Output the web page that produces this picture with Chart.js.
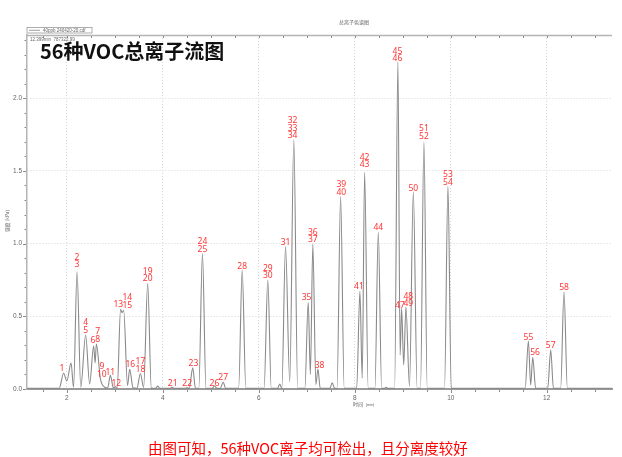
<!DOCTYPE html>
<html>
<head>
<meta charset="utf-8">
<script src="https://cdn.jsdelivr.net/npm/chart.js@4.4.1/dist/chart.umd.min.js"></script>
<style>
  html, body { margin: 0; padding: 0; background: #fff; }
  #wrap { position: relative; width: 622px; height: 457px; overflow: hidden; }
  #c { position: absolute; left: 0; top: 0; }
  .title {
    position: absolute; left: 40px; top: 41px;
    font: bold 20px/20px "Noto Sans CJK SC", sans-serif; color: #111; white-space: nowrap;
  }
  .caption {
    position: absolute; left: 148px; top: 440px;
    font: 14.5px/15px "Noto Sans CJK SC", sans-serif; color: #ff0000; white-space: nowrap;
  }
</style>
</head>
<body>
<div id="wrap">
  <canvas id="c" width="622" height="457"></canvas>
  <div class="title">56种VOC总离子流图</div>
  <div class="caption">由图可知，56种VOC离子均可检出，且分离度较好</div>
</div>
<script>
// ---- data (time in min, signal) ----
const traceTime = [
  1.17, 1.84, 1.933, 2.00, 2.088, 2.14, 2.213, 2.29, 2.392, 2.475, 2.559, 2.59, 2.615, 2.70, 2.79,
  2.85, 2.907, 2.97, 3.01, 3.05, 3.12, 3.15, 3.185, 3.265, 3.31, 3.38, 3.46, 3.533, 3.60, 3.685, 3.76,
  3.85, 3.894, 3.94, 4.14, 4.194, 4.25, 4.46, 4.507, 4.55, 4.624, 4.68, 4.75, 4.826, 4.90,
  5.03, 5.076, 5.13, 5.20, 5.257, 5.31, 5.58, 5.654, 5.73, 6.11, 6.188, 6.26, 6.39, 6.438, 6.48,
  6.557, 6.645, 6.73, 6.81, 6.96, 7.03, 7.075, 7.126, 7.19, 7.232, 7.28, 7.48, 7.53, 7.58,
  7.63, 7.705, 7.78, 8.04, 8.107, 8.155, 8.205, 8.28, 8.42, 8.49, 8.56, 8.62, 8.65, 8.70,
  8.83, 8.899, 8.945, 8.976, 9.02, 9.066, 9.14, 9.22, 9.30, 9.37, 9.441, 9.51, 9.87, 9.942, 10.01,
  11.55, 11.618, 11.665, 11.708, 11.77, 12.02, 12.083, 12.14, 12.29, 12.36, 12.43, 13.36
];
const traceSignal = [
  0.004, 0.004, 0.108, 0.055, 0.179, 0.012, 0.807, 0.012, 0.371, 0.035, 0.296, 0.18, 0.31, 0.07, 0.012,
  0.006, 0.094, 0.008, 0.016, 0.006, 0.548, 0.525, 0.54, 0.025, 0.135, 0.008, 0.005, 0.107, 0.01, 0.727, 0.006,
  0.004, 0.02, 0.004, 0.004, 0.012, 0.004, 0.004, 0.008, 0.004, 0.145, 0.005, 0.005, 0.932, 0.005,
  0.004, 0.022, 0.004, 0.004, 0.048, 0.004, 0.004, 0.818, 0.004, 0.004, 0.75, 0.004, 0.004, 0.034, 0.004,
  0.979, 0.05, 1.715, 0.005, 0.004, 0.597, 0.10, 0.995, 0.03, 0.138, 0.005, 0.004, 0.043, 0.004,
  0.004, 1.323, 0.004, 0.004, 0.672, 0.075, 1.49, 0.004, 0.004, 1.08, 0.004, 0.004, 0.012, 0.004,
  0.004, 2.25, 0.234, 0.555, 0.165, 0.564, 0.02, 1.357, 0.004, 0.004, 1.70, 0.004, 0.004, 1.395, 0.004,
  0.004, 0.33, 0.027, 0.218, 0.004, 0.004, 0.268, 0.004, 0.004, 0.669, 0.004, 0.004
];

// peak numbers and where they sit (time, signal at the label foot)
const labelText = [
  '1', '2\n3', '4\n5', '6', '7\n8', '9\n10', '11', '12', '13', '14\n15', '16', '17\n18', '19\n20',
  '21', '22', '23', '24\n25', '26', '27', '28', '29\n30', '31', '32\n33\n34', '35', '36\n37', '38',
  '39\n40', '41', '42\n43', '44', '45\n46', '47', '48\n49', '50', '51\n52', '53\n54',
  '55', '56', '57', '58'
];
const labelTime = [
  1.90, 2.213, 2.392, 2.546, 2.642, 2.73, 2.907, 3.032, 3.074, 3.26, 3.324, 3.533, 3.685,
  4.206, 4.507, 4.637, 4.826, 5.076, 5.257, 5.654, 6.188, 6.557, 6.703, 6.995, 7.126, 7.266,
  7.718, 8.086, 8.205, 8.49, 8.89, 8.94, 9.116, 9.22, 9.441, 9.942,
  11.618, 11.756, 12.083, 12.36
];
const labelValue = [
  0.111, 0.822, 0.37, 0.301, 0.311, 0.07, 0.081, 0.008, 0.548, 0.542, 0.139, 0.105, 0.726,
  0.008, 0.003, 0.141, 0.93, 0.008, 0.05, 0.81, 0.746, 0.975, 1.709, 0.597, 0.994, 0.132,
  1.322, 0.673, 1.51, 1.078, 2.239, 0.542, 0.554, 1.349, 1.704, 1.388,
  0.325, 0.219, 0.265, 0.669
];

const xTicks = [2, 4, 6, 8, 10, 12];
const yTicks = [0, 0.5, 1.0, 1.5, 2.0];

const frameColor = '#b4b4b4';
const gridColor = '#d6d6d6';
const tinyColor = '#666';

// tick marks, top frame line and the little instrument texts
const frame = {
  id: 'frame',
  afterDraw(chart) {
    const { ctx, chartArea: a, scales: { x, y } } = chart;
    ctx.save();
    ctx.strokeStyle = frameColor;
    ctx.lineWidth = 1.5;
    ctx.beginPath();
    ctx.moveTo(a.left, a.top + 0.5);
    ctx.lineTo(a.right, a.top + 0.5);
    ctx.stroke();

    ctx.lineWidth = 1;
    ctx.strokeStyle = '#8c8c8c';
    ctx.beginPath();
    for (let t = Math.ceil(x.min * 2) / 2; t <= x.max; t += 0.5) {
      const px = Math.round(x.getPixelForValue(t)) + 0.5;
      ctx.moveTo(px, a.top + 1);
      ctx.lineTo(px, a.top + 3);
      ctx.moveTo(px, a.bottom + 1);
      ctx.lineTo(px, a.bottom + (t % 2 === 0 ? 4 : 3));
    }
    for (let i = 0; i * 0.1 <= y.max + 1e-9; i++) {
      const py = Math.round(y.getPixelForValue(i * 0.1)) + 0.5;
      ctx.moveTo(a.left - (i % 5 === 0 ? 4 : 2.5), py);
      ctx.lineTo(a.left - 1, py);
    }
    ctx.stroke();

    // legend box
    ctx.strokeStyle = '#999';
    ctx.lineWidth = 0.8;
    ctx.strokeRect(27, 27.5, 65, 5.5);
    ctx.strokeStyle = '#888';
    ctx.beginPath();
    ctx.moveTo(29, 30.3);
    ctx.lineTo(40, 30.3);
    ctx.stroke();

    ctx.fillStyle = tinyColor;
    ctx.textBaseline = 'middle';
    ctx.textAlign = 'left';
    ctx.font = '4.5px "Liberation Sans", sans-serif';
    ctx.fillText('40ppb 240420-20.cdf', 43, 30.4);
    ctx.fillText('12.399min  787322.99', 30, 40);

    ctx.textAlign = 'center';
    ctx.font = '5px "Noto Sans CJK SC", sans-serif';
    ctx.fillText('总离子色谱图', 354, 21.7);
    ctx.fillText('时间', 358, 404);
    ctx.font = '3.8px "Liberation Sans", sans-serif';
    ctx.fillText('(min)', 370, 404.5);

    ctx.translate(7, 221);
    ctx.rotate(-Math.PI / 2);
    ctx.font = '4.8px "Noto Sans CJK SC", sans-serif';
    ctx.fillText('强度 (kPa)', 0, 0);
    ctx.restore();
  }
};

// red peak numbers above the peaks
const peakLabels = {
  id: 'peakLabels',
  afterDatasetsDraw(chart) {
    const { ctx, scales: { x, y } } = chart;
    ctx.save();
    ctx.fillStyle = '#ff3434';
    ctx.font = '8.5px "Noto Sans", sans-serif';
    ctx.textAlign = 'center';
    ctx.textBaseline = 'middle';
    labelText.forEach((txt, i) => {
      const lines = txt.split('\n');
      const px = x.getPixelForValue(labelTime[i]);
      const py = y.getPixelForValue(labelValue[i]);
      lines.forEach((ln, j) => {
        ctx.fillText(ln, px, py - 4.5 - (lines.length - 1 - j) * 7.7);
      });
    });
    ctx.restore();
  }
};

new Chart(document.getElementById('c'), {
  type: 'line',
  data: {
    datasets: [{
      label: '40ppb 240420-20.cdf',
      data: traceTime.map((t, i) => ({ x: t, y: traceSignal[i] })),
      borderColor: '#8a8a8a',
      borderWidth: 1.1,
      pointRadius: 0,
      cubicInterpolationMode: 'monotone',
      fill: false,
    }]
  },
  options: {
    responsive: false,
    animation: false,
    layout: { padding: { left: 0, right: 10, top: 35, bottom: 0 } },
    plugins: { legend: { display: false }, tooltip: { enabled: false } },
    scales: {
      x: {
        type: 'linear', min: 1.17, max: 13.36,
        afterBuildTicks: s => { s.ticks = xTicks.map(v => ({ value: v })); },
        afterFit: s => { s.height = 68; },
        grid: { color: gridColor, drawTicks: false },
        border: { color: '#9a9a9a', width: 2, dash: [1, 2] },
        ticks: { padding: 5, color: tinyColor, font: { size: 6.5, family: 'Liberation Sans' }, maxRotation: 0 }
      },
      y: {
        type: 'linear', min: 0, max: 2.435,
        afterBuildTicks: s => { s.ticks = yTicks.map(v => ({ value: v })); },
        afterFit: s => { s.width = 27; },
        grid: { color: gridColor, drawTicks: false },
        border: { color: frameColor, width: 1.5, dash: [1, 2] },
        ticks: { padding: 5, color: tinyColor, font: { size: 6.5, family: 'Liberation Sans' }, callback: v => v.toFixed(1) }
      }
    }
  },
  plugins: [frame, peakLabels]
});
</script>
</body>
</html>
